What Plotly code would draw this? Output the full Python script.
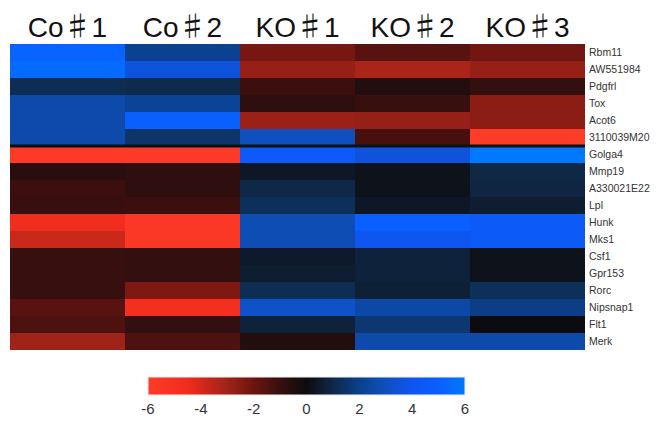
import plotly.graph_objects as go

groups = ["Co", "Co", "KO", "KO", "KO"]
reps = ["1", "2", "1", "2", "3"]
samples = [g + "♯" + r for g, r in zip(groups, reps)]
genes = ["Rbm11", "AW551984", "Pdgfrl", "Tox", "Acot6", "3110039M20",
         "Golga4", "Mmp19", "A330021E22", "Lpl", "Hunk", "Mks1", "Csf1",
         "Gpr153", "Rorc", "Nipsnap1", "Flt1", "Merk"]

co1 = [5.2, 5.5, 1.2, 2.6, 2.6, 2.6, -5.8, -0.7, -1.1, -1.0, -4.5, -3.8, -1.0, -1.0, -1.0, -1.6, -1.4, -3.0]
co2 = [2.1, 3.6, 1.1, 2.2, 5.0, 1.5, -5.8, -0.8, -0.8, -1.1, -5.6, -5.6, -0.9, -0.9, -2.3, -4.8, -0.9, -1.4]
ko1 = [-2.2, -2.8, -1.1, -0.8, -2.9, 3.0, 4.5, 0.4, 1.0, 1.3, 2.8, 2.8, 0.5, 0.6, 1.2, 3.2, 0.8, -0.5]
ko2 = [-1.6, -3.2, -0.5, -1.0, -2.8, -1.3, 3.6, 0.2, 0.2, 0.4, 5.0, 4.0, 0.8, 0.8, 0.7, 2.5, 1.6, 2.6]
ko3 = [-2.1, -2.8, -0.9, -2.6, -2.6, -6.0, 6.0, 1.0, 0.9, 0.6, 4.6, 4.6, 0.2, 0.2, 1.3, 1.9, 0.0, 2.6]

group_sizes = [6, 12]
cbar_ticks = [-6, -4, -2, 0, 2, 4, 6]
cbar_labels = ["-6", "-4", "-2", "0", "2", "4", "6"]

z = [list(r) for r in zip(co1, co2, ko1, ko2, ko3)]

colorscale = [
    [0.0, "rgb(255,60,40)"],
    [0.125, "rgb(240,45,30)"],
    [0.25, "rgb(160,35,25)"],
    [0.333, "rgb(110,20,15)"],
    [0.4167, "rgb(55,15,15)"],
    [0.5, "rgb(12,12,16)"],
    [0.5833, "rgb(15,40,70)"],
    [0.6667, "rgb(10,65,140)"],
    [0.75, "rgb(15,80,190)"],
    [0.8333, "rgb(15,85,240)"],
    [0.9167, "rgb(10,95,255)"],
    [1.0, "rgb(0,120,255)"],
]

L, R, T, B = 10, 81, 44, 72
W, H = 666, 422
pw = W - L - R
ph = H - T - B

sharp = '<span style="font-family:\'Noto Sans CJK JP\'">♯</span>'
col_text = [g + sharp + r for g, r in zip(groups, reps)]

fig = go.Figure(go.Heatmap(
    z=z, x=samples, y=genes,
    zmin=-6, zmax=6,
    colorscale=colorscale,
    colorbar=dict(
        orientation="h",
        lenmode="pixels", len=317,
        thickness=18,
        x=(306.5 - L) / pw, xanchor="center",
        y=(ph - (377 - T)) / ph, yanchor="top",
        xpad=0, ypad=0,
        tickvals=cbar_ticks, ticktext=cbar_labels,
        ticks="",
        tickfont=dict(family="Liberation Sans, Arial", size=15, color="#333"),
        outlinewidth=1, outlinecolor="#eeeeee",
    ),
))

# separator between the two gene groups
fig.add_shape(type="line", xref="paper", yref="y",
              x0=0, x1=1, y0=group_sizes[0] - 0.5, y1=group_sizes[0] - 0.5,
              line=dict(color="#0c1014", width=3))

fig.update_layout(
    width=W, height=H,
    margin=dict(l=L, r=R, t=T, b=B, autoexpand=False),
    paper_bgcolor="white", plot_bgcolor="white",
    xaxis=dict(side="top", showgrid=False, zeroline=False, ticks="", automargin=False,
               tickvals=samples, ticktext=col_text,
               tickfont=dict(family="Liberation Sans, Arial", size=28, color="#111")),
    yaxis=dict(side="right", autorange="reversed", showgrid=False, zeroline=False, ticks="", automargin=False,
               ticklabelstandoff=3,
               tickfont=dict(family="Liberation Sans, Arial", size=10.5, color="#333")),
)

fig.write_html("out.html", config={"displayModeBar": False},
               post_script="document.body.style.margin='0px';")
